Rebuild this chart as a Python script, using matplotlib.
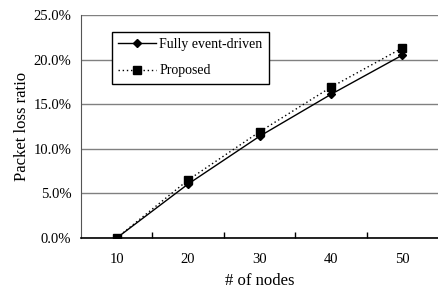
import matplotlib
matplotlib.use("Agg")
import matplotlib.pyplot as plt
from matplotlib.ticker import PercentFormatter

categories = ["10", "20", "30", "40", "50"]
fully = [0.0, 6.05, 11.4, 16.1, 20.5]
proposed = [0.0, 6.5, 11.9, 16.9, 21.3]
yticks = [0, 5, 10, 15, 20, 25]

plt.rcParams['font.family'] = ['Liberation Serif', 'DejaVu Serif']

fig = plt.figure(figsize=(4.39, 2.88), dpi=100)
ax = fig.add_axes([81/439, 1-238/288, (438-81)/439, (238-15)/288])

x = list(range(len(categories)))
ax.plot(x, fully, color='black', lw=1.0, marker='D', ms=4.5, label='Fully event-driven', zorder=3)
ax.plot(x, proposed, color='black', lw=1.0, ls=(0, (1, 2)), marker='s', ms=5.5, label='Proposed', zorder=3)

ax.set_xlim(-0.5, len(categories) - 0.5)
ax.set_ylim(0, 25)
ax.set_yticks(yticks)
ax.yaxis.set_major_formatter(PercentFormatter(decimals=1))
ax.set_xticks(x)
ax.set_xticklabels(categories)
ax.set_xticks([i + 0.5 for i in range(len(categories) - 1)], minor=True)
ax.tick_params(axis='x', which='major', length=0, labelsize=10.5, pad=11)
ax.tick_params(axis='x', which='minor', length=4, direction='in', width=1, color='black')
ax.tick_params(axis='y', length=0, labelsize=10.5, pad=7)
ax.grid(axis='y', color='#808080', lw=1.0)
ax.set_axisbelow(True)
for s in ['top', 'right']:
    ax.spines[s].set_visible(False)
ax.spines['left'].set_color('#555555')
ax.spines['bottom'].set_color('black')
ax.spines['bottom'].set_linewidth(1.2)

ax.set_xlabel('# of nodes', fontsize=12, labelpad=5)
ax.set_ylabel('Packet loss ratio', fontsize=12, labelpad=2)

leg = ax.legend(loc='upper left', bbox_to_anchor=((112-81)/357, 1-(32-15)/223), borderaxespad=0,
                fontsize=10,
                frameon=True, fancybox=False, edgecolor='black', framealpha=1,
                handlelength=2.7, borderpad=0.45, labelspacing=0.95, handletextpad=0.25)
leg.get_frame().set_linewidth(1.0)

fig.savefig('out.png', dpi=100)
